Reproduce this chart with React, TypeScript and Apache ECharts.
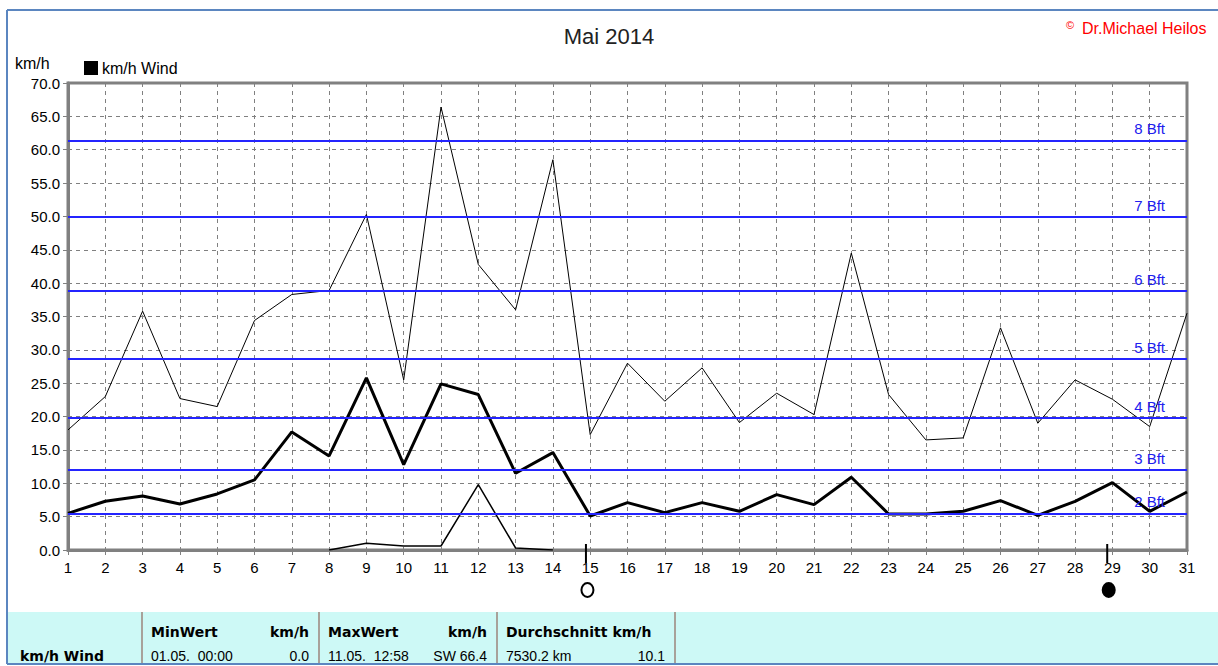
import React, { useEffect, useRef } from "react";
import * as echarts from "echarts";

const days = [1, 2, 3, 4, 5, 6, 7, 8, 9, 10, 11, 12, 13, 14, 15, 16, 17, 18, 19, 20, 21, 22, 23, 24, 25, 26, 27, 28, 29, 30, 31];
const maxWind = [18.0, 23.0, 35.8, 22.7, 21.5, 34.4, 38.3, 38.9, 50.3, 25.5, 66.4, 42.8, 36.0, 58.5, 17.3, 28.0, 22.3, 27.3, 19.1, 23.5, 20.3, 44.5, 23.3, 16.5, 16.8, 33.3, 19.0, 25.5, 22.6, 18.5, 35.5];
const avgWind = [5.5, 7.3, 8.1, 6.9, 8.4, 10.5, 17.7, 14.1, 25.8, 12.8, 24.9, 23.3, 11.5, 14.6, 5.1, 7.1, 5.6, 7.1, 5.8, 8.3, 6.8, 10.9, 5.4, 5.4, 5.8, 7.4, 5.2, 7.3, 10.1, 5.8, 8.7];
const minWind: (number | null)[] = [null, null, null, null, null, null, null, 0.0, 1.0, 0.6, 0.6, 9.8, 0.3, 0.0, null, null, null, null, null, null, null, null, null, null, null, null, null, null, null, null, null];
const bftLevels = [5.5, 12.0, 19.8, 28.6, 38.8, 49.9, 61.4];
const bftLabels = ["2 Bft", "3 Bft", "4 Bft", "5 Bft", "6 Bft", "7 Bft", "8 Bft"];
const moonDays = [14.886, 28.861];
const moonFull = [1, 0];

const title = "Mai 2014";
const copyright = "Dr.Michael Heilos";
const unitLabel = "km/h";
const seriesName = "km/h Wind";
const tableHeaders = ["MinWert", "MaxWert", "Durchschnitt km/h"];
const tableUnits = ["km/h", "km/h", ""];
const tableLeft = ["01.05.  00:00", "11.05.  12:58", "7530.2 km"];
const tableRight = ["0.0", "SW 66.4", "10.1"];

const FONT = "'Liberation Sans', Arial, sans-serif";
const BOLD = "'DejaVu Sans', 'Liberation Sans', sans-serif";

export default function App() {
  const ref = useRef<HTMLDivElement>(null);
  useEffect(() => {
    if (!ref.current) return;
    const chart = echarts.init(ref.current, undefined, { renderer: "svg" });

    const colX = [142, 319, 497, 675];
    const tableGraphics: any[] = [
      { type: "rect", shape: { x: 8, y: 612, width: 1210, height: 52 }, style: { fill: "#cdf9f6" }, z: 0 },
    ];
    colX.forEach((x) => {
      tableGraphics.push({ type: "line", shape: { x1: x, y1: 612, x2: x, y2: 664 }, style: { stroke: "#a8a29a", lineWidth: 2 } });
    });
    tableGraphics.push({
      type: "text", x: 20, y: 656,
      style: { text: seriesName, font: `bold 14px ${BOLD}`, fill: "#000", textVerticalAlign: "middle" },
    });
    for (let i = 0; i < 3; i++) {
      const l = colX[i] + 9;
      const r = colX[i + 1] - 10;
      tableGraphics.push({ type: "text", x: l, y: 632, style: { text: tableHeaders[i], font: `bold 14px ${BOLD}`, fill: "#000", textVerticalAlign: "middle" } });
      if (tableUnits[i]) {
        tableGraphics.push({ type: "text", x: r, y: 632, style: { text: tableUnits[i], font: `bold 14px ${BOLD}`, fill: "#000", textAlign: "right", textVerticalAlign: "middle" } });
      }
      tableGraphics.push({ type: "text", x: l, y: 656, style: { text: tableLeft[i], font: `14px ${FONT}`, fill: "#000", textVerticalAlign: "middle" } });
      tableGraphics.push({ type: "text", x: r, y: 656, style: { text: tableRight[i], font: `14px ${FONT}`, fill: "#000", textAlign: "right", textVerticalAlign: "middle" } });
    }

    const option: any = {
      animation: false,
      backgroundColor: "#ffffff",
      title: {
        text: title, left: "center", top: 20,
        textStyle: { fontFamily: FONT, fontSize: 22, fontWeight: "normal", color: "#222" },
      },
      legend: {
        left: 84, top: 60, padding: 0, selectedMode: false, itemWidth: 14, itemHeight: 14, itemGap: 8,
        data: [{ name: seriesName, icon: "rect" }],
        textStyle: { fontFamily: FONT, fontSize: 16, color: "#000", padding: [0, 0, 0, -1] },
      },
      grid: {
        left: 68, top: 83, right: 31, bottom: 116, show: true,
        borderColor: "#808080", borderWidth: 3, backgroundColor: "transparent",
      },
      xAxis: {
        type: "value", min: 1, max: 31, interval: 1,
        axisLine: { show: true, lineStyle: { color: "#808080", width: 3 } },
        axisTick: { show: true, length: 5, lineStyle: { color: "#808080", width: 1 } },
        axisLabel: { fontFamily: FONT, fontSize: 15, color: "#000", margin: 10 },
        splitLine: { show: true, lineStyle: { color: "#808080", type: [4, 4], width: 1 } },
      },
      yAxis: {
        type: "value", min: 0, max: 70, interval: 5,
        axisLine: { show: true, lineStyle: { color: "#808080", width: 3 } },
        axisTick: { show: true, length: 5, lineStyle: { color: "#808080", width: 1 } },
        axisLabel: { fontFamily: FONT, fontSize: 15, color: "#000", margin: 8, formatter: (v: number) => v.toFixed(1) },
        splitLine: { show: true, lineStyle: { color: "#808080", type: [4, 4], width: 1 } },
      },
      graphic: [
        { type: "line", shape: { x1: 7, y1: 10, x2: 1218, y2: 10 }, style: { stroke: "#5b86c0", lineWidth: 2 } },
        { type: "line", shape: { x1: 7, y1: 10, x2: 7, y2: 664 }, style: { stroke: "#5b86c0", lineWidth: 2 } },
        ...tableGraphics,
        { type: "line", shape: { x1: 7, y1: 664, x2: 1218, y2: 664 }, style: { stroke: "#5b86c0", lineWidth: 2 } },
        { type: "text", x: 1070, y: 25, style: { text: "©", font: `11px ${FONT}`, fill: "#ff0000", textAlign: "center", textVerticalAlign: "middle" } },
        { type: "text", x: 1082, y: 28, style: { text: copyright, font: `16px ${FONT}`, fill: "#ff0000", textVerticalAlign: "middle" } },
        { type: "text", x: 15, y: 63, style: { text: unitLabel, font: `16px ${FONT}`, fill: "#000", textVerticalAlign: "middle" } },
      ],
      series: [
        {
          name: "min", type: "line", z: 2, silent: true, showSymbol: false, symbol: "none",
          connectNulls: false,
          data: days.map((d, i) => [d, minWind[i]]),
          lineStyle: { color: "#000", width: 1.5 },
          markLine: {
            silent: true, symbol: "none", animation: false,
            lineStyle: { color: "#2424ff", width: 2, type: "solid" },
            label: {
              show: true, position: "insideEndTop", distance: [22, 4],
              color: "#2020ee", fontFamily: FONT, fontSize: 15,
              formatter: (p: any) => p.name,
            },
            data: bftLevels.map((v, i) => ({ yAxis: v, name: bftLabels[i] })),
          },
        },
        {
          name: "max", type: "line", z: 3, silent: true, showSymbol: false, symbol: "none",
          data: days.map((d, i) => [d, maxWind[i]]),
          lineStyle: { color: "#000", width: 1 },
        },
        {
          name: seriesName, type: "line", z: 4, silent: true, showSymbol: false, symbol: "none",
          data: days.map((d, i) => [d, avgWind[i]]),
          itemStyle: { color: "#000" },
          lineStyle: { color: "#000", width: 3 },
        },
        {
          name: "moon", type: "custom", z: 5, silent: true, clip: false,
          data: moonDays.map((d, i) => [d, moonFull[i]]),
          encode: { x: 0 },
          renderItem: (params: any, api: any) => {
            const p = api.coord([api.value(0), 0]);
            const full = api.value(1) === 1;
            return {
              type: "group",
              children: [
                { type: "line", shape: { x1: p[0], y1: p[1] - 6, x2: p[0], y2: p[1] + 13 }, style: { stroke: "#000", lineWidth: 2 } },
                { type: "ellipse", shape: { cx: p[0] + 1.5, cy: p[1] + 40, rx: 6, ry: 7 }, style: { fill: full ? "#fff" : "#000", stroke: "#000", lineWidth: 2 } },
              ],
            };
          },
        },
      ],
    };
    chart.setOption(option);
    return () => chart.dispose();
  }, []);
  return (
    <div style={{ position: "absolute", left: 0, top: 0, width: 1218, height: 666, background: "#fff" }}>
      <div ref={ref} style={{ width: 1218, height: 666 }} />
    </div>
  );
}
